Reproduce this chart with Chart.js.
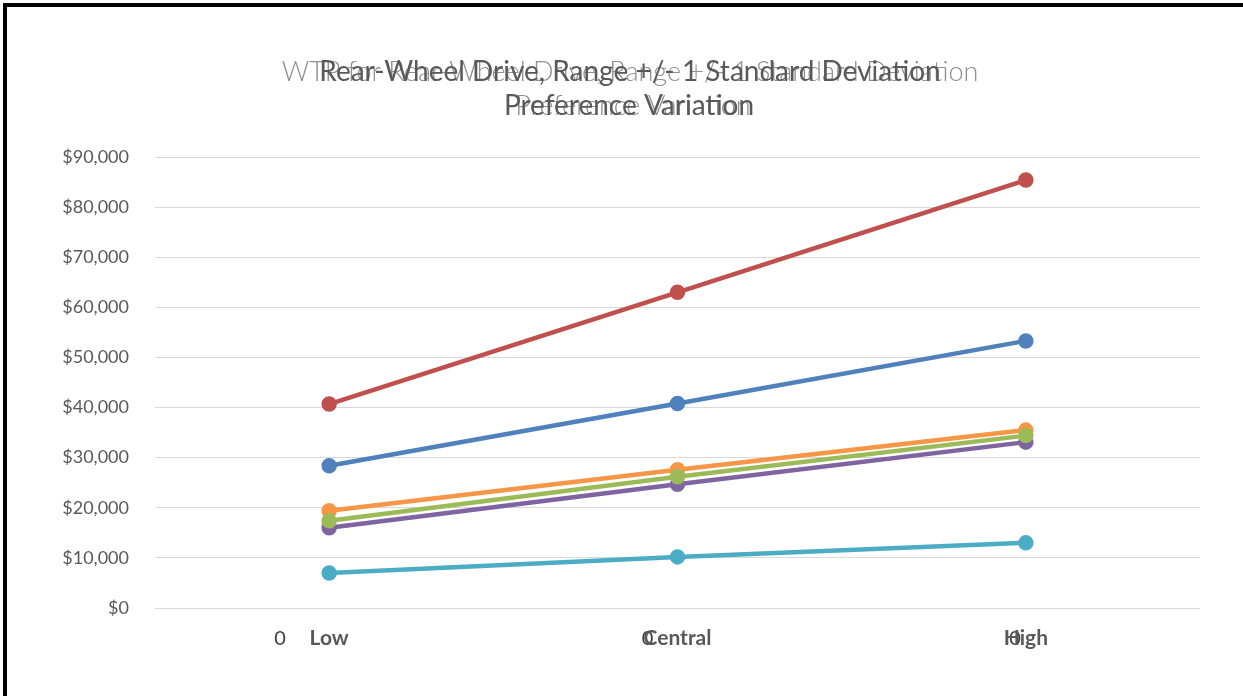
<!DOCTYPE html>
<html>
<head>
<meta charset="utf-8">
<script src="https://cdn.jsdelivr.net/npm/chart.js@4.4.1/dist/chart.umd.min.js"></script>
<style>
  html, body { margin: 0; padding: 0; background: #ffffff; overflow: hidden; }
  #wrap { position: relative; width: 1243px; height: 696px; overflow: hidden; background: #ffffff; }
  #c { position: absolute; left: 0; top: 0; }
  .bar { position: absolute; background: #000; pointer-events: none; }
  #barTop { left: 3px; top: 3px; width: 1240px; height: 4px; }
  #barLeft { left: 3px; top: 3px; width: 4px; height: 693px; }
</style>
</head>
<body>
<div id="wrap">
  <canvas id="c" width="1243" height="696"></canvas>
  <div class="bar" id="barTop"></div>
  <div class="bar" id="barLeft"></div>
</div>
<script>
// Scenario categories along the horizontal axis
const categories = ['Low', 'Central', 'High'];

// Willingness-to-pay values (USD) per series
const seriesBlue   = [28400, 40800, 53300];
const seriesRed    = [40700, 63000, 85400];
const seriesGreen  = [17400, 26200, 34400];
const seriesPurple = [16000, 24700, 33100];
const seriesTeal   = [7000, 10200, 13000];
const seriesOrange = [19400, 27600, 35500];

// Secondary axis labels
const secondaryLabels = ['0', '0', '0'];
const secondaryPositions = [0, 1, 2];

// Value axis range
const yMin = 0;
const yMax = 90000;
const yStep = 10000;

// Title lines
const titleBackLine1 = 'WTP for Rear-Wheel Drive, Range +/- 1 Standard Deviation';
const titleFrontLine1 = 'Rear-Wheel Drive, Range +/- 1 Standard Deviation';
const titleLine2 = 'Preference Variation';

function series(label, data, color) {
  return {
    label, data,
    borderColor: color,
    backgroundColor: color,
    pointBackgroundColor: color,
    pointBorderColor: color,
    borderWidth: 4.5,
    pointRadius: 5.5,
    pointHoverRadius: 5.5,
    tension: 0,
    xAxisID: 'x',
    yAxisID: 'y'
  };
}

// Two overlapping title renderings
const titlePlugin = {
  id: 'stackedTitle',
  afterDraw(chart) {
    const ctx = chart.ctx;
    ctx.save();
    ctx.textAlign = 'center';
    ctx.textBaseline = 'middle';
    ctx.font = '300 27px Lato';
    ctx.fillStyle = '#8f8f8f';
    ctx.fillText(titleBackLine1, 630, 72);
    ctx.fillText(titleLine2, 633, 106);
    ctx.font = '28px Lato';
    ctx.fillStyle = '#595959';
    ctx.fillText(titleFrontLine1, 630, 72);
    ctx.fillText(titleLine2, 629, 106);
    ctx.restore();
  }
};

const whiteBg = {
  id: 'whiteBg',
  beforeDraw(chart) {
    const ctx = chart.ctx;
    ctx.save();
    ctx.fillStyle = '#ffffff';
    ctx.fillRect(0, 0, chart.width, chart.height);
    ctx.restore();
  }
};

// Let the secondary bottom axis share the label band of the category axis
const shareAxisBand = {
  id: 'shareAxisBand',
  afterLayout(chart) {
    const a = chart.scales.x, b = chart.scales.x2;
    if (a && b) {
      b.top = a.top;
      b.bottom = a.bottom;
      b.height = a.height;
    }
  }
};

new Chart(document.getElementById('c'), {
  type: 'line',
  data: {
    labels: categories,
    datasets: [
      series('Series 1', seriesBlue, '#4F81BD'),
      series('Series 2', seriesRed, '#C0504D'),
      series('Series 3', seriesGreen, '#9BBB59'),
      series('Series 4', seriesPurple, '#8064A2'),
      series('Series 5', seriesTeal, '#4BACC6'),
      series('Series 6', seriesOrange, '#F79646')
    ]
  },
  options: {
    responsive: false,
    animation: false,
    layout: { padding: { top: 157, right: 43, bottom: 0, left: 0 } },
    plugins: {
      legend: { display: false },
      title: { display: false },
      tooltip: { enabled: false }
    },
    scales: {
      y: {
        position: 'left',
        min: yMin,
        max: yMax,
        ticks: {
          stepSize: yStep,
          padding: 26,
          color: '#595959',
          font: { family: 'Lato', size: 18 },
          callback: v => '$' + Number(v).toLocaleString('en-US')
        },
        grid: { color: '#D9D9D9', lineWidth: 1, drawTicks: false },
        border: { display: false },
        afterFit(scale) { scale.width = 155; }
      },
      x2: {
        type: 'linear',
        position: 'bottom',
        weight: -1,
        min: -0.340,
        max: 2.503,
        afterBuildTicks(scale) {
          scale.ticks = secondaryPositions.map(v => ({ value: v }));
        },
        ticks: {
          autoSkip: false,
          maxRotation: 0,
          padding: 19,
          color: '#404040',
          font: { family: 'Lato', size: 20 },
          callback: (v, i) => secondaryLabels[i]
        },
        grid: { display: false, drawTicks: false },
        border: { display: false },
        afterFit(scale) { scale.height = 0; }
      },
      x: {
        type: 'category',
        position: 'bottom',
        weight: 0,
        offset: true,
        ticks: {
          autoSkip: false,
          maxRotation: 0,
          padding: 18,
          color: '#595959',
          font: { family: 'Lato', size: 21, weight: 'bold' }
        },
        grid: { display: false, drawTicks: false },
        border: { display: false },
        afterFit(scale) { scale.height = 88; }
      }
    }
  },
  plugins: [whiteBg, shareAxisBand, titlePlugin]
});
</script>
</body>
</html>
